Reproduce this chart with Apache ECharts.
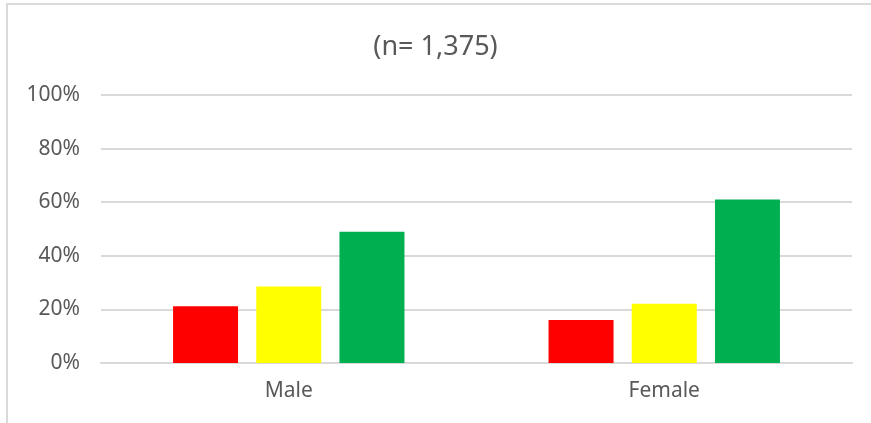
<!DOCTYPE html>
<html>
<head>
<meta charset="utf-8">
<script src="https://cdn.jsdelivr.net/npm/echarts@6/dist/echarts.min.js"></script>
<style>
  html, body { margin: 0; padding: 0; background: #fff; }
  #chart { width: 871px; height: 423px; }
</style>
</head>
<body>
<div id="chart"></div>
<script>
// 数据
const titleText = '(n= 1,375)';
const categories = ['Male', 'Female'];
const redValues = [21.2, 16.0];
const yellowValues = [28.5, 22.1];
const greenValues = [49.0, 61.0];
const yTicks = [0, 20, 40, 60, 80, 100];

const chart = echarts.init(document.getElementById('chart'));

const barSeries = (name, data, color) => ({
    type: 'bar',
    name: name,
    data: data,
    barWidth: 65,
    barGap: '28%',
    itemStyle: { color: color },
    silent: true
});

chart.setOption({
    animation: false,
    title: {
        text: titleText,
        left: 'center',
        top: 29,
        textStyle: { fontFamily: 'Noto Sans', fontSize: 27, fontWeight: 'normal', color: '#595959' }
    },
    grid: { left: 101, right: 19, top: 95, bottom: 60 },
    xAxis: {
        type: 'category',
        data: categories,
        axisLine: { lineStyle: { color: '#d9d9d9', width: 2 } },
        axisTick: { show: false },
        axisLabel: { fontFamily: 'Noto Sans', fontSize: 21, color: '#595959', margin: 18 }
    },
    yAxis: {
        type: 'value',
        min: yTicks[0],
        max: yTicks[yTicks.length - 1],
        interval: 20,
        axisLabel: {
            fontFamily: 'Noto Sans', fontSize: 21, color: '#595959', margin: 21,
            formatter: v => v + '%'
        },
        splitLine: { lineStyle: { color: '#d9d9d9', width: 2 } },
        axisLine: { show: false },
        axisTick: { show: false }
    },
    series: [
        barSeries('Red', redValues, '#ff0000'),
        barSeries('Yellow', yellowValues, '#ffff00'),
        barSeries('Green', greenValues, '#00b050')
    ],
    // 外框（左、上）
    graphic: [
        { type: 'line', shape: { x1: 7, y1: 4, x2: 7, y2: 423 }, style: { stroke: '#d9d9d9', lineWidth: 2 } },
        { type: 'line', shape: { x1: 6, y1: 4, x2: 871, y2: 4 }, style: { stroke: '#d9d9d9', lineWidth: 2 } }
    ]
});
</script>
</body>
</html>
